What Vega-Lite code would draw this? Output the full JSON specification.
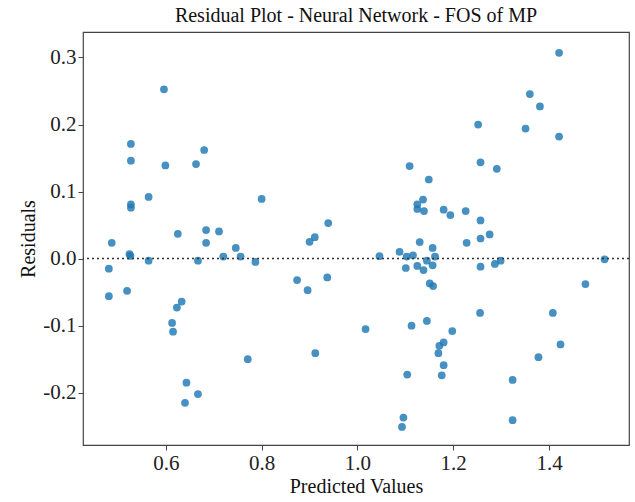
{
  "$schema": "https://vega.github.io/schema/vega-lite/v6.json",
  "width": 546,
  "height": 413,
  "autosize": "none",
  "padding": {"left": 83, "top": 32, "right": 6, "bottom": 57},
  "title": {"text": "Residual Plot - Neural Network - FOS of MP", "font": "Liberation Serif", "fontSize": 20, "fontWeight": "normal", "color": "#111", "offset": 6},
  "config": {
    "view": {"stroke": "#444", "strokeWidth": 1.2},
    "axis": {"grid": false, "domain": false, "tickColor": "#444", "tickSize": 5, "labelFont": "Liberation Serif", "labelFontSize": 21, "labelColor": "#222", "titleFont": "Liberation Serif", "titleFontSize": 20, "titleFontWeight": "normal", "titleColor": "#111"}
  },
  "layer": [
    {
      "data": {"values": [
        {"pred": 0.596, "res": 0.2525}, {"pred": 0.527, "res": 0.171}, {"pred": 0.527, "res": 0.146},
        {"pred": 0.599, "res": 0.139}, {"pred": 0.663, "res": 0.141}, {"pred": 0.680, "res": 0.162},
        {"pred": 0.564, "res": 0.092}, {"pred": 0.527, "res": 0.081}, {"pred": 0.527, "res": 0.076},
        {"pred": 0.800, "res": 0.089}, {"pred": 0.625, "res": 0.037}, {"pred": 0.684, "res": 0.0425},
        {"pred": 0.711, "res": 0.0405}, {"pred": 0.487, "res": 0.0236}, {"pred": 0.684, "res": 0.0236},
        {"pred": 0.746, "res": 0.016}, {"pred": 0.524, "res": 0.0067}, {"pred": 0.526, "res": 0.004},
        {"pred": 0.720, "res": 0.003}, {"pred": 0.756, "res": 0.003}, {"pred": 0.564, "res": -0.003},
        {"pred": 0.667, "res": -0.003}, {"pred": 0.787, "res": -0.005}, {"pred": 0.481, "res": -0.015},
        {"pred": 0.481, "res": -0.056}, {"pred": 0.519, "res": -0.048}, {"pred": 0.633, "res": -0.064},
        {"pred": 0.623, "res": -0.073}, {"pred": 0.613, "res": -0.096}, {"pred": 0.615, "res": -0.109},
        {"pred": 0.771, "res": -0.150}, {"pred": 0.643, "res": -0.185}, {"pred": 0.667, "res": -0.202},
        {"pred": 0.640, "res": -0.215},
        {"pred": 1.109, "res": 0.138}, {"pred": 1.149, "res": 0.118}, {"pred": 1.137, "res": 0.088},
        {"pred": 1.125, "res": 0.081}, {"pred": 1.125, "res": 0.074}, {"pred": 1.139, "res": 0.071},
        {"pred": 1.180, "res": 0.073}, {"pred": 1.194, "res": 0.065}, {"pred": 0.939, "res": 0.053},
        {"pred": 0.911, "res": 0.032}, {"pred": 0.900, "res": 0.025}, {"pred": 1.130, "res": 0.0246},
        {"pred": 1.157, "res": 0.016}, {"pred": 1.088, "res": 0.010}, {"pred": 1.046, "res": 0.0037},
        {"pred": 1.103, "res": 0.003}, {"pred": 1.116, "res": 0.005}, {"pred": 1.162, "res": 0.003},
        {"pred": 1.101, "res": -0.014}, {"pred": 1.125, "res": -0.011}, {"pred": 1.138, "res": -0.017},
        {"pred": 1.145, "res": -0.003}, {"pred": 1.157, "res": -0.010}, {"pred": 0.874, "res": -0.032},
        {"pred": 0.896, "res": -0.047}, {"pred": 0.937, "res": -0.028}, {"pred": 1.151, "res": -0.037},
        {"pred": 1.158, "res": -0.041}, {"pred": 1.017, "res": -0.105}, {"pred": 1.113, "res": -0.100},
        {"pred": 1.145, "res": -0.093}, {"pred": 1.198, "res": -0.108}, {"pred": 1.180, "res": -0.125},
        {"pred": 1.171, "res": -0.130}, {"pred": 1.169, "res": -0.141}, {"pred": 0.912, "res": -0.141},
        {"pred": 1.180, "res": -0.159}, {"pred": 1.176, "res": -0.174}, {"pred": 1.104, "res": -0.173},
        {"pred": 1.096, "res": -0.237}, {"pred": 1.093, "res": -0.251},
        {"pred": 1.421, "res": 0.307}, {"pred": 1.360, "res": 0.2455}, {"pred": 1.381, "res": 0.227},
        {"pred": 1.252, "res": 0.200}, {"pred": 1.351, "res": 0.194}, {"pred": 1.421, "res": 0.182},
        {"pred": 1.257, "res": 0.1436}, {"pred": 1.291, "res": 0.134}, {"pred": 1.226, "res": 0.071},
        {"pred": 1.257, "res": 0.057}, {"pred": 1.276, "res": 0.036}, {"pred": 1.257, "res": 0.030},
        {"pred": 1.228, "res": 0.0236}, {"pred": 1.257, "res": -0.012}, {"pred": 1.287, "res": -0.008},
        {"pred": 1.299, "res": -0.003}, {"pred": 1.516, "res": -0.001}, {"pred": 1.476, "res": -0.038},
        {"pred": 1.256, "res": -0.081}, {"pred": 1.408, "res": -0.081}, {"pred": 1.424, "res": -0.128},
        {"pred": 1.378, "res": -0.147}, {"pred": 1.324, "res": -0.181}, {"pred": 1.324, "res": -0.241}
      ]},
      "mark": {"type": "circle", "size": 60, "color": "#1f77b4", "opacity": 0.82},
      "encoding": {
        "x": {"field": "pred", "type": "quantitative", "title": "Predicted Values",
              "scale": {"domain": [0.427, 1.567], "nice": false, "zero": false},
              "axis": {"values": [0.6, 0.8, 1.0, 1.2, 1.4], "format": ".1f", "titlePadding": 3}},
        "y": {"field": "res", "type": "quantitative", "title": "Residuals",
              "scale": {"domain": [-0.278, 0.338], "nice": false, "zero": false},
              "axis": {"values": [-0.2, -0.1, 0, 0.1, 0.2, 0.3], "labelExpr": "datum.value < 0 ? '-' + format(-datum.value, '.1f') : format(datum.value, '.1f')", "titlePadding": 4}}
      }
    },
    {
      "data": {"values": [{"zero": 0}]},
      "mark": {"type": "rule", "color": "#333", "strokeDash": [2, 3], "strokeWidth": 1.5},
      "encoding": {"y": {"field": "zero", "type": "quantitative"}}
    }
  ]
}
